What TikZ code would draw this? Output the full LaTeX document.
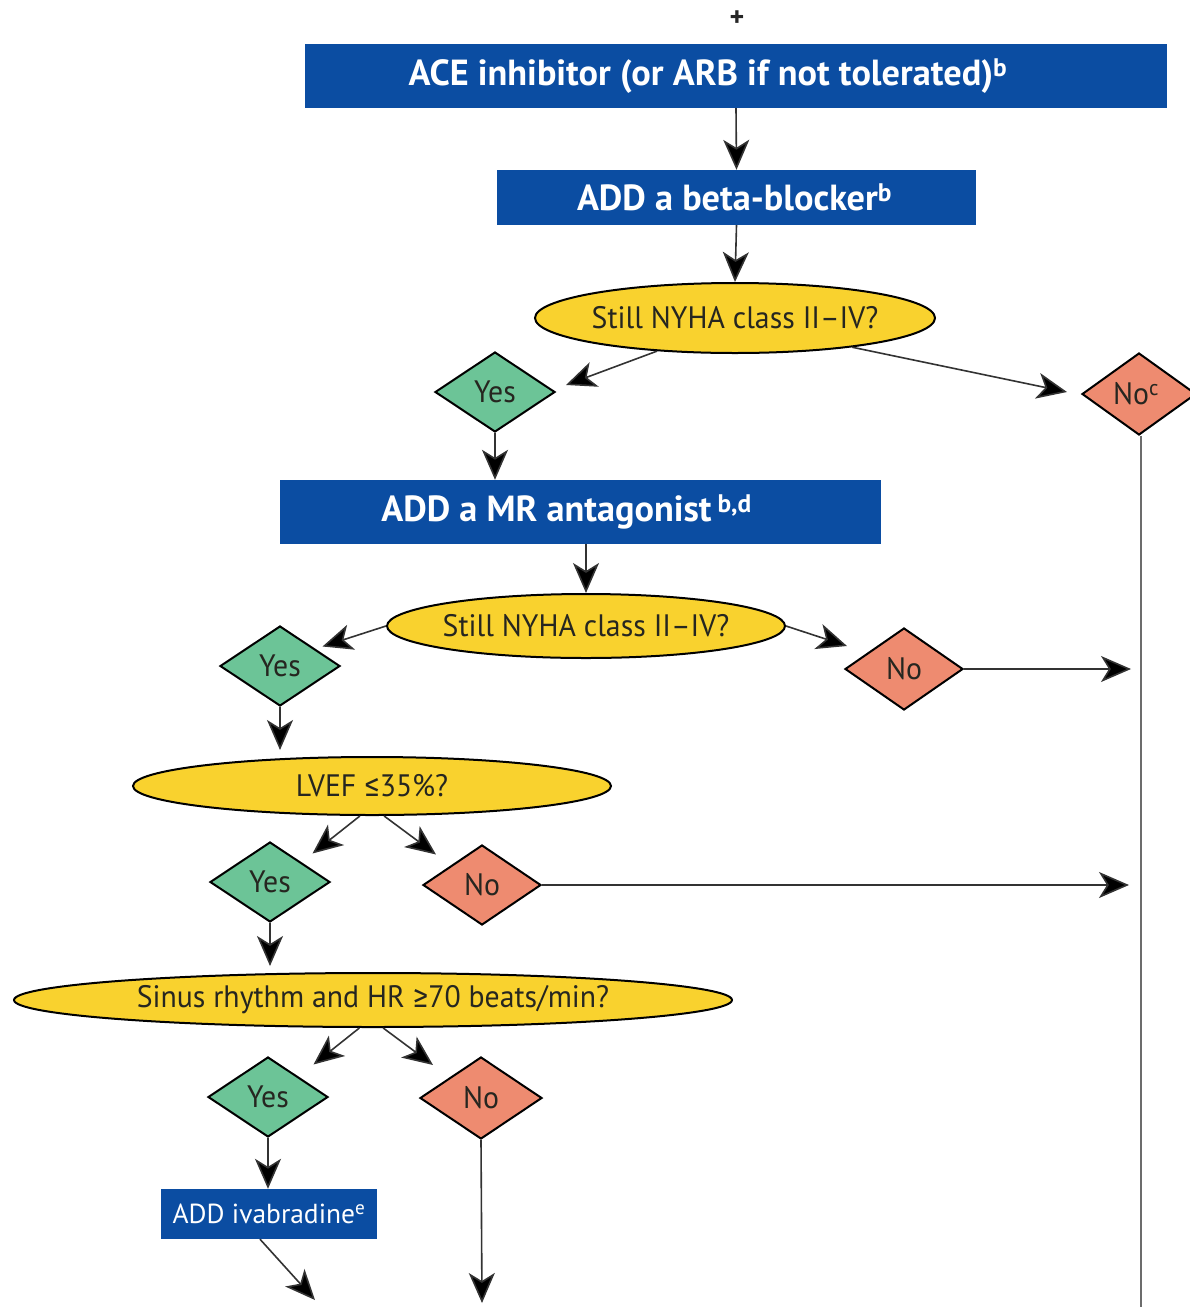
\documentclass[tikz,border=0pt]{standalone}
\usepackage{fontspec}
\setmainfont{PT Sans}
\newfontfamily\condf[FakeStretch=0.96]{PT Sans}
\newfontfamily\symf{Fira Sans}
\usetikzlibrary{shapes.geometric,arrows.meta,calc}
\definecolor{boxblue}{HTML}{0B4DA2}
\definecolor{qyellow}{HTML}{F9D22E}
\definecolor{ygreen}{HTML}{6CC497}
\definecolor{nsalmon}{HTML}{EE8B70}
\definecolor{linec}{HTML}{333333}
\definecolor{txtdark}{HTML}{262620}
\tikzset{
  bluebox/.style={rectangle, fill=boxblue, draw=none, text=white, inner sep=0pt,
    font=\bfseries\fontsize{36.3}{38}\selectfont},
  question/.style={ellipse, fill=qyellow, draw=black, line width=2pt, inner sep=0pt,
    text=txtdark, font=\condf\fontsize{31}{33}\selectfont},
  yesd/.style={diamond, fill=ygreen, draw=black, line width=2pt, inner sep=0pt,
    text=txtdark, font=\condf\fontsize{31}{33}\selectfont},
  nod/.style={diamond, fill=nsalmon, draw=black, line width=2pt, inner sep=0pt,
    text=txtdark, font=\condf\fontsize{31}{33}\selectfont},
  arr/.style={draw=linec, line width=1.6pt, -{Stealth[length=30pt,width=26pt,inset=8pt,fill=black]}},
  vline/.style={draw=gray!85!black, line width=2.5pt}
}
\begin{document}
\begin{tikzpicture}[x=1pt,y=-1pt]
\useasboundingbox (0,0) rectangle (1190,1307);
\node[font=\bfseries\fontsize{28}{28}\selectfont, text=black!85] (plus) at (737,19) {+};
% blue boxes
\node[bluebox, minimum width=862pt, minimum height=64pt] (b1) at (736,76)
  {\makebox[0pt]{\hspace*{-56pt}ACE inhibitor (or ARB if not tolerated)\textsuperscript{b}}};
\node[bluebox, minimum width=479pt, minimum height=55pt] (b2) at (736.5,197.5)
  {\makebox[0pt]{\hspace*{-4pt}ADD a beta-blocker\textsuperscript{b}}};
\node[bluebox, minimum width=601pt, minimum height=64pt] (b3) at (580.5,512)
  {\makebox[0pt]{\hspace*{-28pt}ADD a MR antagonist\,\textsuperscript{b,d}}};
\node[bluebox, minimum width=216pt, minimum height=50pt, font=\fontsize{27.5}{29}\selectfont] (b4) at (269,1214)
  {\makebox[0pt]{ADD ivabradine\textsuperscript{e}}};
% questions
\node[question, minimum width=400pt, minimum height=70pt] (e1) at (735,318)
  {\makebox[0pt]{Still NYHA class II–IV?}};
\node[question, minimum width=398pt, minimum height=64pt] (e2) at (586,626)
  {\makebox[0pt]{Still NYHA class II–IV?}};
\node[question, minimum width=478pt, minimum height=58pt] (e3) at (372,786)
  {\makebox[0pt]{LVEF {\symf ≤}35\%?}};
\node[question, minimum width=718pt, minimum height=54pt] (e4) at (373,1000)
  {\makebox[0pt]{Sinus rhythm and HR {\symf ≥}70 beats/min?}};
% diamonds
\node[yesd, minimum width=120pt, minimum height=80pt] (y1) at (495,392) {\makebox[0pt]{Yes}};
\node[nod, minimum width=114pt, minimum height=82pt] (noc) at (1139,394) {\makebox[0pt]{\hspace*{-6pt}No\textsuperscript{c}}};
\node[yesd, minimum width=120pt, minimum height=80pt] (y2) at (280,666) {\makebox[0pt]{Yes}};
\node[nod, minimum width=118pt, minimum height=82pt] (n2) at (904,669) {\makebox[0pt]{No}};
\node[yesd, minimum width=120pt, minimum height=80pt] (y3) at (270,882) {\makebox[0pt]{Yes}};
\node[nod, minimum width=118pt, minimum height=80pt] (n3) at (482,885) {\makebox[0pt]{No}};
\node[yesd, minimum width=120pt, minimum height=80pt] (y4) at (268,1097) {\makebox[0pt]{Yes}};
\node[nod, minimum width=122pt, minimum height=82pt] (n4) at (481,1098) {\makebox[0pt]{No}};
% free ends
\coordinate (vbot) at (1141,1310);
\coordinate (ivend) at (315,1300);
\coordinate (n4end) at (482,1303);
% connectors
\draw[arr] (b1.south) -- (b2.north);
\draw[arr] (b2.south) -- (e1.north);
\draw[arr] (e1.203) -- ([shift={(10,-7)}]y1.east);
\draw[arr] (e1.346) -- ([shift={(-14,-2)}]noc.west);
\draw[vline] (noc.south -| vbot) -- (vbot);
\draw[arr] (y1.south) -- (y1.south |- b3.north);
\draw[arr] (b3.south -| e2.north) -- (e2.north);
\draw[arr] (e2.west) -- ([shift={(12,1)}]y2.north east);
\draw[arr] (e2.east) -- ([shift={(3,-23)}]n2.west);
\draw[arr, shorten >=10pt] (n2.east) -- (n2.east -| vbot);
\draw[arr, shorten >=6pt] (y2.south) -- (y2.south |- e3.north);
\draw[arr] (e3.248) -- ([shift={(12,-8)}]y3.north east);
\draw[arr] (e3.292) -- ([shift={(-16,-10)}]n3.north west);
\draw[arr, shorten >=12pt] (n3.east) -- (n3.east -| vbot);
\draw[arr, shorten >=6pt] (y3.south) -- (y3.south |- e4.north);
\draw[arr] (e4.244) -- ([shift={(15,-12)}]y4.north east);
\draw[arr] (e4.290) -- ([shift={(-17,-12)}]n4.north west);
\draw[arr] (y4.south) -- (y4.south |- b4.north);
\draw[arr] ([xshift=-9pt]b4.south) -- (ivend);
\draw[arr] (n4.south) -- (n4end);
\end{tikzpicture}
\end{document}
